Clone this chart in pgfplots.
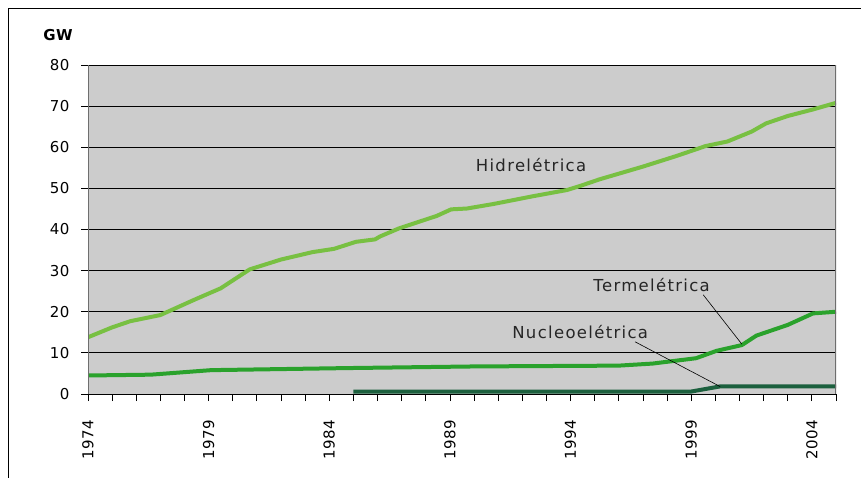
\documentclass[border=0pt]{standalone}
\usepackage{pgfplots}
\pgfplotsset{compat=1.18}
\usepackage{fontspec}
\setmainfont{DejaVu Sans}[LetterSpace=4]
\newfontfamily\annfont{DejaVu Sans}[LetterSpace=8]
\definecolor{plotgray}{RGB}{204,204,204}
\definecolor{hydro}{RGB}{120,192,66}
\definecolor{thermo}{RGB}{42,162,44}
\definecolor{nuclear}{RGB}{28,96,62}
\definecolor{axgray}{RGB}{110,110,110}
\begin{document}
\begin{tikzpicture}
\useasboundingbox (-88bp,-84bp) rectangle (773bp,394bp);
\begin{axis}[
  scale only axis, width=748bp, height=329bp,
  at={(0,0)}, anchor=south west,
  xmin=1974, xmax=2005, ymin=0, ymax=80,
  ytick={0,10,...,80},
  xtick={1974,...,2005},
  xticklabels={1974,,,,,1979,,,,,1984,,,,,1989,,,,,1994,,,,,1999,,,,,2004,},
  xtick pos=bottom, ytick pos=left,
  axis background/.style={fill=plotgray},
  ymajorgrids, grid style={black, line width=0.8bp},
  tick align=outside, major tick length=7bp,
  tick style={black, line width=0.8bp},
  axis line style={draw=none},
  /pgf/number format/assume math mode=true,
  tick label style={font=\fontsize{15bp}{18bp}\selectfont},
  xticklabel style={rotate=90, anchor=east},
  xticklabel shift=15bp,
  yticklabel shift=8bp,
  clip=true,
]
\addplot[hydro, line width=4bp, line join=round] coordinates {
(1974,13.8) (1975,16.2) (1975.75,17.7) (1977,19.2) (1978.4,22.9) (1979.5,25.7)
(1980.7,30.3) (1982,32.7) (1982.8,33.8) (1983.3,34.5) (1984.2,35.3) (1985.1,37.0)
(1985.9,37.6) (1986.1,38.3) (1986.9,40.3) (1988.45,43.3) (1989.05,44.9) (1989.7,45.1)
(1990.8,46.2) (1992.45,48.1) (1993.85,49.6) (1994.4,50.6) (1995.2,52.2) (1997,55.3)
(1998.4,57.9) (1999.6,60.3) (2000.5,61.4) (2001.5,63.8) (2002.1,65.8) (2003,67.6)
(2004.05,69.2) (2005,70.8)
};
\addplot[thermo, line width=4bp, line join=round] coordinates {
(1974,4.5) (1976.6,4.7) (1979.1,5.8) (1984.7,6.3) (1990,6.7) (1996,6.9)
(1997.4,7.4) (1999.2,8.7) (2000.05,10.5) (2001.1,11.9) (2001.7,14.2) (2003,16.8)
(2004.05,19.6) (2005,20.0)
};
\addplot[nuclear, line width=4bp, line join=round] coordinates {
(1985,0.6) (1999,0.6) (2000.2,1.85) (2005,1.85)
};
\draw[axgray, line width=1bp] (rel axis cs:0,0) -- (rel axis cs:0,1);
\draw[black, line width=1bp] (rel axis cs:0,0) -- (rel axis cs:1,0);
\draw[axgray, line width=2bp] (rel axis cs:1,0) -- (rel axis cs:1,1);
\node[font=\annfont\fontsize{16.5bp}{19bp}\selectfont, text=black!85] at (axis cs:1992.36,55.7) {Hidrelétrica};
\node[font=\annfont\fontsize{16.5bp}{19bp}\selectfont, text=black!85] at (axis cs:1997.36,26.5) {Termelétrica};
\node[font=\annfont\fontsize{16.5bp}{19bp}\selectfont, text=black!85] at (axis cs:1994.4,15.15) {Nucleoelétrica};
\draw[black, line width=0.6bp] (axis cs:1999.5,24.1) -- (axis cs:2001.1,12.1);
\draw[black, line width=0.6bp] (axis cs:1996.67,12.7) -- (axis cs:2000.2,1.8);
\end{axis}
\draw[black, line width=1bp] (-79bp,-90bp) -- (-79bp,385bp) -- (780bp,385bp);
\node[font=\bfseries\fontsize{15bp}{18bp}\selectfont] at (-30bp,359bp) {GW};
\end{tikzpicture}
\end{document}
